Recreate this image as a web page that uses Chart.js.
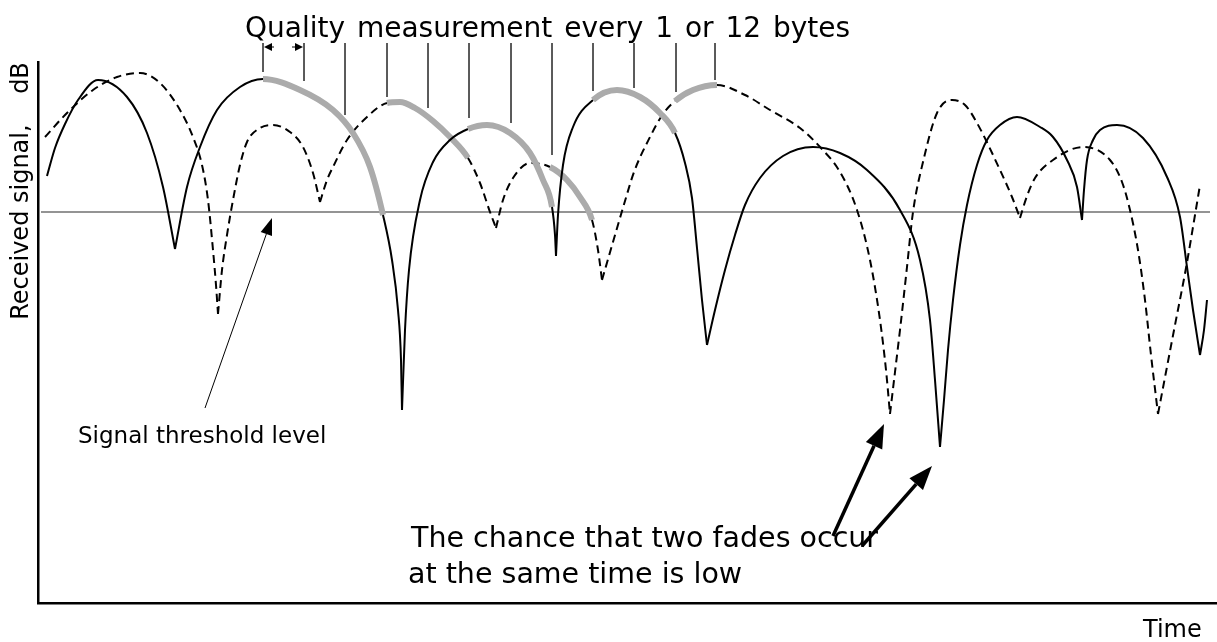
<!DOCTYPE html>
<html>
<head>
<meta charset="utf-8">
<title>Received signal vs time</title>
<script src="https://cdn.jsdelivr.net/npm/chart.js@4.4.1/dist/chart.umd.min.js"></script>
<style>
  html, body { margin: 0; padding: 0; background: #fff; }
  #chart { display: block; }
</style>
</head>
<body>
<canvas id="chart" width="1217" height="642"></canvas>
<script>
// time (arbitrary units) / received level (arbitrary dB units above the floor)
// each arc runs from one fade to the next
const solidArcs = [
    [[9,427],[17,455],[27,479],[40,503],[60,523],[89,506],[109,470],[125,416],[137,354]],
    [[137,354],[149,416],[162,456],[179,493],[202,516],[225,524],[262,513],[295,493],[315,470],[332,436],[345,388],[354,343],[360,293],[363,243],[364,193]],
    [[364,193],[367,273],[371,333],[382,403],[395,441],[412,463],[430,474],[449,478],[472,470],[492,450],[505,423],[514,396],[517,368],[518,347]],
    [[518,347],[520,388],[525,438],[535,476],[555,503],[579,513],[602,506],[622,490],[637,470],[647,440],[654,405],[659,355],[664,303],[669,258]],
    [[669,258],[677,293],[687,333],[697,368],[707,398],[722,425],[745,447],[775,456],[802,450],[829,433],[862,393],[882,343],[892,283],[897,223],[902,156]],
    [[902,156],[906,203],[910,253],[915,303],[922,358],[929,398],[939,438],[949,463],[962,478],[979,486],[1002,476],[1015,466],[1029,443],[1039,416],[1044,383]],
    [[1044,383],[1046,413],[1049,443],[1055,463],[1062,473],[1079,478],[1105,465],[1129,426],[1142,386],[1149,336],[1155,293],[1162,248]],
    [[1162,248],[1166,273],[1169,303]]
];

const dashedArcs = [
    [[7,466],[29,490],[55,513],[79,526],[102,530],[122,520],[142,493],[155,466],[164,438],[170,403],[175,353],[178,318],[180,289]],
    [[180,289],[184,333],[189,368],[195,403],[202,438],[209,461],[222,475],[235,478],[252,471],[265,456],[275,430],[282,401]],
    [[282,401],[289,423],[295,436],[309,463],[329,486],[349,500],[362,501],[377,495],[395,482],[412,466],[430,445],[442,420],[452,391],[458,375]],
    [[458,375],[465,403],[475,425],[492,440],[512,436],[529,423],[542,406],[554,383],[560,353],[564,323]],
    [[564,323],[575,361],[587,402],[596,431],[612,466],[625,489],[637,502],[655,513],[679,518],[707,508],[732,493],[762,475],[782,456],[802,431],[819,393],[832,343],[842,283],[848,233],[852,189]],
    [[852,189],[857,231],[862,273],[869,336],[875,391],[885,441],[899,490],[914,503],[927,498],[939,480],[962,433],[974,406],[982,385]],
    [[982,385],[989,407],[997,425],[1015,443],[1045,456],[1072,443],[1084,421],[1092,393],[1100,353],[1107,303],[1113,248],[1120,189]],
    [[1120,189],[1128,231],[1137,278],[1148,335],[1157,388],[1162,418]]
];

// stretches where the quality is measured (drawn grey)
const solidMeasured = [[225,345],[430,514],[555,637]];
const dashedMeasured = [[349,430],[512,554],[637,679]];

const thresholdLevel = 391;
const thresholdSpan = [3, 1172];

const markerTimes = [225,266,307,349,390,431,473,514,555,596,638,677];
const markerEnds = [531,522,488,506,495,485,480,448,512,515,511,523];
const markerTop = 560;

const titleText = 'Quality measurement every 1 or 12 bytes';
const yLabel = 'Received signal,    dB';
const xLabel = 'Time';
const thresholdText = 'Signal threshold level';
const noteLines = ['The chance that two fades occur', 'at the same time is low'];

// arrows in data units: [tailTime, tailLevel, tipTime, tipLevel]
const thresholdArrow = [167, 195, 234, 385];
const fadeArrows = [[795, 67, 846, 179], [824, 57, 894, 137]];


function arcsToPoints(arcs) {
    const pts = [];
    arcs.forEach((arc, i) => {
        if (i > 0) pts.push({ x: arc[0][0], y: null });
        arc.forEach(p => pts.push({ x: p[0], y: p[1] }));
    });
    return pts;
}

function markerPoints() {
    const pts = [];
    markerTimes.forEach((t, i) => {
        pts.push({ x: t, y: markerTop });
        pts.push({ x: t, y: markerEnds[i] });
        pts.push({ x: t, y: null });
    });
    return pts;
}

function measured(ranges) {
    return ctx => ranges.some(r => ctx.p0.parsed.x >= r[0] && ctx.p1.parsed.x <= r[1]);
}

function greySegments(ranges) {
    const isIn = measured(ranges);
    return {
        borderColor: ctx => isIn(ctx) ? '#ababab' : undefined,
        borderWidth: ctx => isIn(ctx) ? 6 : undefined,
        borderDash: ctx => isIn(ctx) ? [] : undefined
    };
}

function drawArrow(ctx, x1, y1, x2, y2, width, headLen, headHalf) {
    const a = Math.atan2(y2 - y1, x2 - x1);
    const bx = x2 - headLen * Math.cos(a);
    const by = y2 - headLen * Math.sin(a);
    ctx.lineWidth = width;
    ctx.beginPath();
    ctx.moveTo(x1, y1);
    ctx.lineTo(bx, by);
    ctx.stroke();
    ctx.beginPath();
    ctx.moveTo(x2, y2);
    ctx.lineTo(bx + headHalf * Math.sin(a), by - headHalf * Math.cos(a));
    ctx.lineTo(bx - headHalf * Math.sin(a), by + headHalf * Math.cos(a));
    ctx.closePath();
    ctx.fill();
}

const annotations = {
    id: 'annotations',
    afterDatasetsDraw(chart) {
        const { ctx, scales: { x, y } } = chart;
        ctx.save();
        ctx.fillStyle = '#000';
        ctx.strokeStyle = '#000';
        ctx.textBaseline = 'alphabetic';

        ctx.font = '28px "DejaVu Sans"';
        ctx.wordSpacing = '3px';
        ctx.fillText(titleText, 245, 37);
        ctx.wordSpacing = '0px';

        ctx.font = '23px "DejaVu Sans"';
        ctx.fillText(thresholdText, 78, 443);

        ctx.font = '28.5px "DejaVu Sans"';
        ctx.fillText(noteLines[0], 411, 547);
        ctx.fillText(noteLines[1], 408, 583);

        ctx.font = '24px "DejaVu Sans"';
        ctx.fillText(xLabel, 1143, 637);

        ctx.save();
        ctx.translate(28, 191);
        ctx.rotate(-Math.PI / 2);
        ctx.textAlign = 'center';
        ctx.font = '24px "DejaVu Sans"';
        ctx.fillText(yLabel, 0, 0);
        ctx.restore();

        // interval between two measurements
        const xa = x.getPixelForValue(markerTimes[0]);
        const xb = x.getPixelForValue(markerTimes[1]);
        const ya = y.getPixelForValue(markerTop) + 4;
        drawArrow(ctx, xa + 11, ya, xa + 1, ya, 1, 8, 4);
        drawArrow(ctx, xb - 12, ya, xb - 1, ya, 1, 8, 4);

        const t = thresholdArrow;
        drawArrow(ctx, x.getPixelForValue(t[0]), y.getPixelForValue(t[1]),
            x.getPixelForValue(t[2]), y.getPixelForValue(t[3]), 1, 17, 6);

        fadeArrows.forEach(f => {
            drawArrow(ctx, x.getPixelForValue(f[0]), y.getPixelForValue(f[1]),
                x.getPixelForValue(f[2]), y.getPixelForValue(f[3]), 3.5, 24, 9);
        });
        ctx.restore();
    }
};

const ctx = document.getElementById('chart').getContext('2d');

new Chart(ctx, {
    type: 'line',
    data: {
        datasets: [
            {
                label: 'Signal A',
                data: arcsToPoints(solidArcs),
                borderColor: '#000',
                borderWidth: 2,
                cubicInterpolationMode: 'monotone',
                segment: greySegments(solidMeasured),
                order: 1
            },
            {
                label: 'Signal B',
                data: arcsToPoints(dashedArcs),
                borderColor: '#000',
                borderWidth: 2,
                borderDash: [8, 5],
                cubicInterpolationMode: 'monotone',
                segment: greySegments(dashedMeasured),
                order: 2
            },
            {
                label: 'Threshold',
                data: thresholdSpan.map(t => ({ x: t, y: thresholdLevel })),
                borderColor: '#707070',
                borderWidth: 1.5,
                order: 3
            },
            {
                label: 'Measurements',
                data: markerPoints(),
                borderColor: '#444',
                borderWidth: 1,
                clip: false,
                order: 4
            }
        ]
    },
    options: {
        responsive: false,
        animation: false,
        events: [],
        layout: { padding: { left: 38, top: 62, right: 0, bottom: 39 } },
        elements: { point: { radius: 0 }, line: { borderJoinStyle: 'round' } },
        plugins: {
            legend: { display: false },
            tooltip: { enabled: false }
        },
        scales: {
            x: {
                type: 'linear',
                min: 0,
                max: 1179,
                ticks: { display: false },
                grid: { display: false, drawTicks: false },
                border: { display: true, color: '#000', width: 2.5 },
                afterFit: s => { s.height = 0; }
            },
            y: {
                min: 0,
                max: 541,
                ticks: { display: false },
                grid: { display: false, drawTicks: false },
                border: { display: true, color: '#000', width: 2.5 },
                afterFit: s => { s.width = 0; }
            }
        }
    },
    plugins: [annotations]
});
</script>
</body>
</html>
